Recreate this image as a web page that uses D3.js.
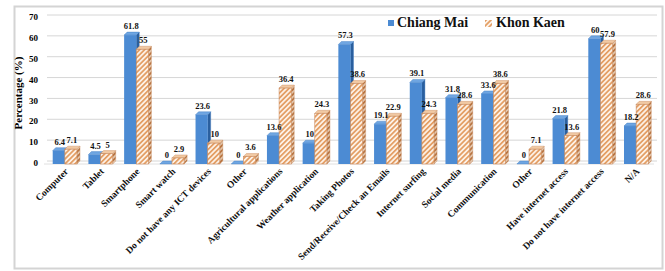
<!DOCTYPE html>
<html>
<head>
<meta charset="utf-8">
<script src="https://cdn.jsdelivr.net/npm/d3@7"></script>
<style>
  body { margin: 0; background: #fff; }
</style>
</head>
<body>
<svg id="chart" width="665" height="271" font-family="'Liberation Serif', 'Times New Roman', Times, serif" font-weight="bold"></svg>
<script>
// categories along the x axis
const categories = ["Computer", "Tablet", "Smartphone", "Smart watch", "Do not have any ICT devices",
  "Other", "Agricultural applications", "Weather application", "Taking Photos",
  "Send/Receive/Check an Emails", "Internet surfing", "Social media", "Communication",
  "Other", "Have internet access", "Do not have internet access", "N/A"];

// series values (%)
const chiangMai = [6.4, 4.5, 61.8, 0, 23.6, 0, 13.6, 10, 57.3, 19.1, 39.1, 31.8, 33.6, 0, 21.8, 60, 18.2];
const khonKaen  = [7.1, 5, 55, 2.9, 10, 3.6, 36.4, 24.3, 38.6, 22.9, 24.3, 28.6, 38.6, 7.1, 13.6, 57.9, 28.6];

const seriesNames = ["Chiang Mai", "Khon Kaen"];
const yTicks = [0, 10, 20, 30, 40, 50, 60, 70];

const svg = d3.select("#chart");
const depth = 3; // fake 3D offset

// outer frame
svg.append("rect").attr("x", 14.5).attr("y", 6.5).attr("width", 648).attr("height", 262)
  .attr("fill", "#fff").attr("stroke", "#d4d4d4").attr("stroke-width", 2);

const defs = svg.append("defs");
const pat = defs.append("pattern").attr("id", "hatch")
  .attr("patternUnits", "userSpaceOnUse").attr("width", 3.5).attr("height", 3.5)
  .attr("patternTransform", "rotate(45)");
pat.append("rect").attr("width", 3.5).attr("height", 3.5).attr("fill", "#fdf1e6");
pat.append("rect").attr("width", 1.7).attr("height", 3.5).attr("fill", "#e39d62");

const patSide = defs.append("pattern").attr("id", "hatchSide")
  .attr("patternUnits", "userSpaceOnUse").attr("width", 3.5).attr("height", 3.5)
  .attr("patternTransform", "rotate(45)");
patSide.append("rect").attr("width", 3.5).attr("height", 3.5).attr("fill", "#e2c6ad");
patSide.append("rect").attr("width", 1.7).attr("height", 3.5).attr("fill", "#b8733f");

const x = d3.scaleBand().domain(d3.range(categories.length)).range([47, 654]).paddingInner(0.32).paddingOuter(0.16);
const xs = d3.scaleBand().domain([0, 1]).range([0, x.bandwidth()]).padding(0);
const y = d3.scaleLinear().domain([0, 70]).range([164, 18]);

// gridlines on the back wall
svg.append("g").selectAll("line").data(yTicks).join("line")
  .attr("x1", 44 + depth).attr("x2", 654 + depth)
  .attr("y1", d => y(d) - depth).attr("y2", d => y(d) - depth)
  .attr("stroke", "#d6d6d6").attr("stroke-width", 1);
// floor edge
svg.append("line").attr("x1", 44).attr("x2", 654).attr("y1", y(0)).attr("y2", y(0))
  .attr("stroke", "#e0e0e0");

// y tick labels
svg.append("g").selectAll("text").data(yTicks).join("text")
  .attr("x", 38).attr("y", d => y(d) - 1).attr("dy", "0.35em")
  .attr("text-anchor", "end").attr("font-size", 9).text(d => d);

svg.append("text")
  .attr("transform", `translate(22,${(y(0) + y(70)) / 2 + 2}) rotate(-90)`)
  .attr("text-anchor", "middle").attr("font-size", 11).text("Percentage (%)");

const rows = [];
categories.forEach((c, i) => {
  rows.push({i, s: 0, v: chiangMai[i]});
  rows.push({i, s: 1, v: khonKaen[i]});
});

const styles = [
  {front: "#4c8bd3", side: "#2a5f9e", top: "#6fa6e2", stroke: "#3a76bd"},
  {front: "url(#hatch)", side: "url(#hatchSide)", top: "#f1c9a3", stroke: "#c8885a"}
];

const bx = d => x(d.i) + xs(d.s);
const bw = xs.bandwidth();

svg.append("g").selectAll("g.bar").data(rows).join("g").attr("class", "bar")
  .each(function(d) {
    const g = d3.select(this);
    const st = styles[d.s];
    const x0 = bx(d), w = bw;
    const yt = y(d.v), yb = y(0);
    // side face
    g.append("path")
      .attr("d", `M${x0 + w},${yb} L${x0 + w + depth},${yb - depth} L${x0 + w + depth},${yt - depth} L${x0 + w},${yt} Z`)
      .attr("fill", st.side).attr("stroke", st.stroke).attr("stroke-width", 0.4);
    // top face
    g.append("path")
      .attr("d", `M${x0},${yt} L${x0 + depth},${yt - depth} L${x0 + w + depth},${yt - depth} L${x0 + w},${yt} Z`)
      .attr("fill", st.top).attr("stroke", st.stroke).attr("stroke-width", 0.4);
    // front face
    g.append("rect").attr("x", x0).attr("y", yt).attr("width", w).attr("height", yb - yt)
      .attr("fill", st.front).attr("stroke", st.stroke).attr("stroke-width", d.s ? 0.6 : 0);
  });

// value labels on top of all bars
svg.append("g").selectAll("text").data(rows).join("text")
  .attr("x", d => bx(d) + bw / 2 + 1).attr("y", d => y(d.v) - depth - 3)
  .attr("text-anchor", "middle").attr("font-size", 8.5).attr("fill", "#111").text(d => d.v);

// x labels
svg.append("g").selectAll("text").data(categories).join("text")
  .attr("transform", (d, i) => `translate(${x(i) + x.bandwidth() / 2 + 4},${y(0) + 8}) rotate(-45)`)
  .attr("text-anchor", "end").attr("font-size", 9.5).attr("fill", "#111").text(d => d);

// legend
const lg = svg.append("g");
lg.append("rect").attr("x", 388).attr("y", 20).attr("width", 6).attr("height", 6).attr("fill", "#4c8bd3");
lg.append("text").attr("x", 397).attr("y", 27).attr("font-size", 14).attr("fill", "#111").text(seriesNames[0]);
lg.append("rect").attr("x", 485).attr("y", 20).attr("width", 7).attr("height", 7).attr("fill", "url(#hatch)");
lg.append("text").attr("x", 496).attr("y", 27).attr("font-size", 14).attr("fill", "#111").text(seriesNames[1]);
</script>
</body>
</html>
